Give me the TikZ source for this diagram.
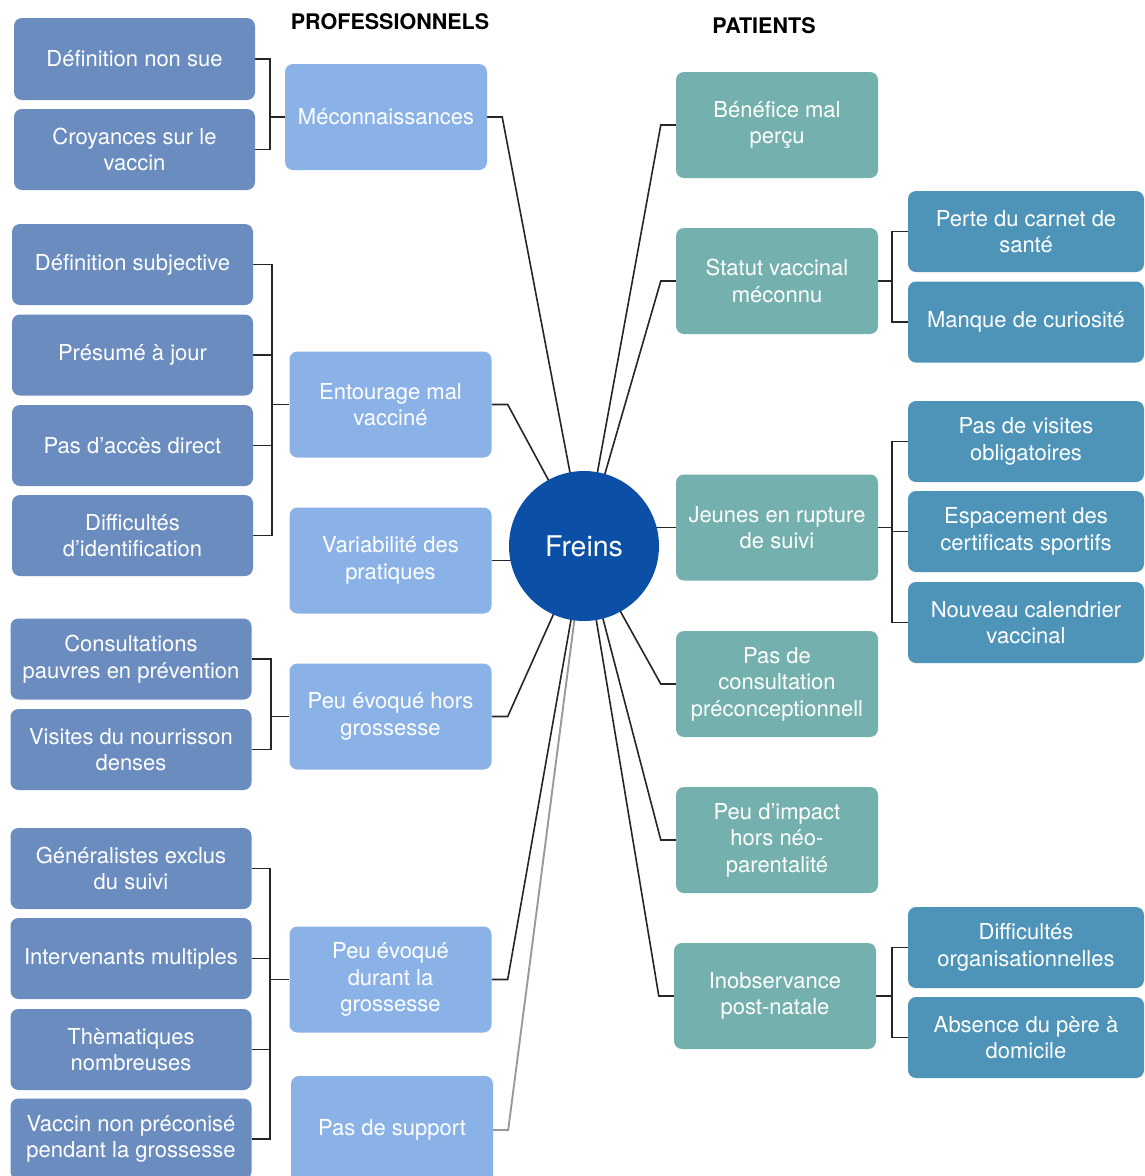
\documentclass[tikz,border=0pt]{standalone}
\usepackage{fontspec}
\setmainfont{TeX Gyre Heros}
\usetikzlibrary{backgrounds}
\definecolor{outerL}{HTML}{6A8CBF}
\definecolor{midL}{HTML}{8BB2E7}
\definecolor{midR}{HTML}{74B1AE}
\definecolor{outerR}{HTML}{4E94B8}
\definecolor{core}{HTML}{0B4FA6}
\begin{document}
\begin{tikzpicture}[x=1pt,y=-1pt,
  every node/.style={font=\fontsize{22}{26.5}\selectfont, text=white, align=center, inner sep=0pt},
  obox/.style={fill=outerL, rounded corners=8pt, minimum width=241pt, minimum height=81pt},
  mbox/.style={fill=midL, rounded corners=8pt, minimum width=202pt, minimum height=106pt},
  tbox/.style={fill=midR, rounded corners=8pt, minimum width=202pt, minimum height=106pt},
  rbox/.style={fill=outerR, rounded corners=8pt, minimum width=236pt, minimum height=81pt},
  conn/.style={draw=black!85, line width=1.6pt},
  hdr/.style={font=\fontsize{21.5}{24}\selectfont\bfseries, text=black}]
\useasboundingbox (0,0) rectangle (1145,1176);
\clip (0,0) rectangle (1145,1176);

% headers
\node[hdr] (hp) at (390,22) {PROFESSIONNELS};
\node[hdr] (hq) at (764,26) {PATIENTS};

% centre
\node[circle, fill=core, minimum size=150pt, font=\fontsize{28.5}{30}\selectfont] (freins) at (584,546) {Freins};

% left outer
\node[obox, minimum height=82pt] (a1) at (134.5,59) {Définition non sue};
\node[obox] (a2) at (134.5,149.5) {Croyances sur le\\vaccin};
\node[obox] (b1) at (132.5,264.5) {Définition subjective};
\node[obox] (b2) at (132.5,355) {Présumé à jour};
\node[obox] (b3) at (132.5,445.5) {Pas d'accès direct};
\node[obox] (b4) at (132.5,535.5) {Difficultés\\d'identification};
\node[obox] (c1) at (131,659) {Consultations\\pauvres en prévention};
\node[obox] (c2) at (131,749.5) {Visites du nourrisson\\denses};
\node[obox] (d1) at (131,868.5) {Généralistes exclus\\du suivi};
\node[obox] (d2) at (131,958.5) {Intervenants multiples};
\node[obox] (d3) at (131,1049.5) {Thèmatiques\\nombreuses};
\node[obox] (d4) at (131,1139) {Vaccin non préconisé\\pendant la grossesse};

% left middle
\node[mbox] (m1) at (386,117) {Méconnaissances};
\node[mbox] (m2) at (390.5,404.5) {Entourage mal\\vacciné};
\node[mbox] (m3) at (390.5,560.5) {Variabilité des\\pratiques};
\node[mbox] (m4) at (390.5,716.5) {Peu évoqué hors\\grossesse};
\node[mbox] (m5) at (390.5,979.5) {Peu évoqué\\durant la\\grossesse};
\node[mbox, minimum height=108pt] (m6) at (392,1130) {Pas de support};

% right middle
\node[tbox] (t1) at (777,125) {Bénéfice mal\\perçu};
\node[tbox] (t2) at (777,281) {Statut vaccinal\\méconnu};
\node[tbox] (t3) at (777,527.5) {Jeunes en rupture\\de suivi};
\node[tbox] (t4) at (777,684) {Pas de\\consultation\\préconceptionnell};
\node[tbox] (t5) at (777,840) {Peu d'impact\\hors néo-\\parentalité};
\node[tbox] (t6) at (775,996) {Inobservance\\post-natale};

% right outer
\node[rbox] (r1) at (1026,231.5) {Perte du carnet de\\santé};
\node[rbox] (r2) at (1026,322) {Manque de curiosité};
\node[rbox] (r3) at (1026,441.5) {Pas de visites\\obligatoires};
\node[rbox] (r4) at (1026,531.5) {Espacement des\\certificats sportifs};
\node[rbox] (r5) at (1026,622.5) {Nouveau calendrier\\vaccinal};
\node[rbox] (r6) at (1026,947.5) {Difficultés\\organisationnelles};
\node[rbox] (r7) at (1026,1037.5) {Absence du père à\\domicile};

% bracket columns
\coordinate (ka) at (270,0);
\coordinate (kb) at (272,0);
\coordinate (kc) at (271,0);
\coordinate (kd) at (270,0);
\coordinate (kr) at (892,0);

\begin{scope}[on background layer]
  \fill[white] (0,0) rectangle (1145,1176);
  % left brackets
  \foreach \c in {a1,a2} \draw[conn] (\c.east) -- (\c.east -| ka) |- (m1.west);
  \foreach \c in {b1,b2,b3,b4} \draw[conn] (\c.east) -- (\c.east -| kb) |- (m2.west);
  \foreach \c in {c1,c2} \draw[conn] (\c.east) -- (\c.east -| kc) |- (m4.west);
  \foreach \c in {d1,d2,d3,d4} \draw[conn] (\c.east) -- (\c.east -| kd) |- (m5.west);
  % right brackets
  \foreach \c in {r1,r2} \draw[conn] (\c.west) -- (\c.west -| kr) |- (t2.east);
  \foreach \c in {r3,r4,r5} \draw[conn] (\c.west) -- (\c.west -| kr) |- (t3.east);
  \foreach \c in {r6,r7} \draw[conn] (\c.west) -- (\c.west -| kr) |- (t6.east);
  % to the centre
  \draw[conn] (m1.east) -- ++(15,0) -- (freins.center);
  \draw[conn] (m2.east) -- ++(16,0) -- (freins.center);
  \draw[conn] (m3.east) -- (m3.east -| freins.center);
  \draw[conn] (m4.east) -- ++(16,0) -- (freins.center);
  \draw[conn] (m5.east) -- ++(16,0) -- (freins.center);
  \draw[draw=gray!80, line width=1.9pt] (m6.east) -- ++(15,0) -- (freins.center);
  \draw[conn] (t1.west) -- ++(-15,0) -- (freins.center);
  \draw[conn] (t2.west) -- ++(-15,0) -- (freins.center);
  \draw[conn] (t3.west) -- (t3.west -| freins.center);
  \draw[conn] (t4.west) -- ++(-15,0) -- (freins.center);
  \draw[conn] (t5.west) -- ++(-15,0) -- (freins.center);
  \draw[conn] (t6.west) -- ++(-15,0) -- (freins.center);
\end{scope}
\end{tikzpicture}
\end{document}
